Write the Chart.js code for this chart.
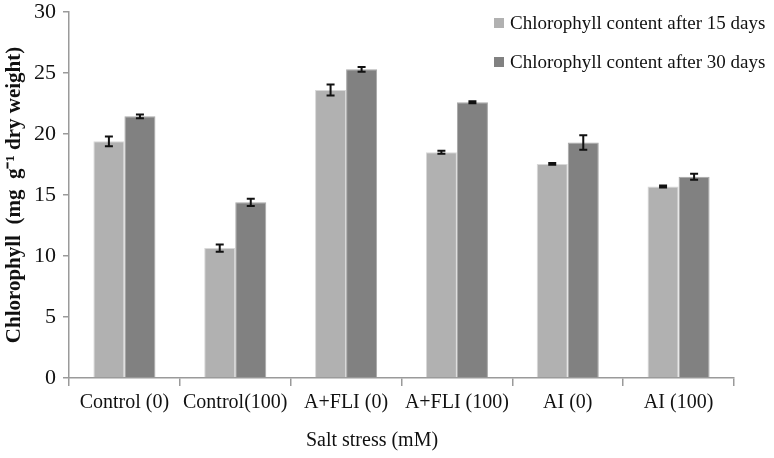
<!DOCTYPE html>
<html>
<head>
<meta charset="utf-8">
<script src="https://cdn.jsdelivr.net/npm/chart.js@4"></script>
<style>
  body { margin: 0; background: #fff; }
  #wrap { position: relative; width: 774px; height: 458px; }
  #legend { position: absolute; left: 494px; top: 11px; font-family: "Liberation Serif", serif; font-size: 19px; color: #111; }
  #legend div { height: 39px; line-height: 24px; white-space: nowrap; }
  #legend span { display: inline-block; width: 10px; height: 10px; margin-right: 6px; vertical-align: 1px; }
  #xtitle { position: absolute; left: 372px; top: 428px; transform: translateX(-50%); font-family: "Liberation Serif", serif; font-size: 20px; color: #111; white-space: nowrap; }
</style>
</head>
<body>
<div id="wrap">
  <canvas id="chart" width="774" height="458"></canvas>
  <div id="legend"></div>
  <div id="xtitle">Salt stress (mM)</div>
</div>
<script>
// Data
const categories = ['Control (0)', 'Control(100)', 'A+FLI (0)', 'A+FLI (100)', 'AI (0)', 'AI (100)'];
const seriesNames = ['Chlorophyll content after 15 days', 'Chlorophyll content after 30 days'];
const values15 = [19.4, 10.65, 23.6, 18.5, 17.55, 15.7];
const values30 = [21.45, 14.4, 25.3, 22.6, 19.3, 16.5];
const errors15 = [0.4, 0.3, 0.45, 0.12, 0.08, 0.08];
const errors30 = [0.15, 0.3, 0.2, 0.08, 0.6, 0.25];
const yTicks = [0, 5, 10, 15, 20, 25, 30];

const COLORS = ['#b1b1b1', '#818181'];
const FONT = '"Liberation Serif", "Times New Roman", serif';

// HTML legend
const legend = document.getElementById('legend');
seriesNames.forEach((name, i) => {
  const row = document.createElement('div');
  const box = document.createElement('span');
  box.style.backgroundColor = COLORS[i];
  row.appendChild(box);
  row.appendChild(document.createTextNode(name));
  legend.appendChild(row);
});

// Error bars drawn through the scales
const errorBarPlugin = {
  id: 'errorBars',
  afterDatasetsDraw(chart) {
    const ctx = chart.ctx;
    const yScale = chart.scales.y;
    const errs = [errors15, errors30];
    ctx.save();
    ctx.strokeStyle = '#111';
    ctx.lineWidth = 2;
    chart.data.datasets.forEach((ds, di) => {
      const meta = chart.getDatasetMeta(di);
      meta.data.forEach((bar, i) => {
        const v = ds.data[i];
        const top = yScale.getPixelForValue(v + errs[di][i]);
        const bottom = yScale.getPixelForValue(v - errs[di][i]);
        const x = bar.x;
        ctx.beginPath();
        ctx.moveTo(x, top); ctx.lineTo(x, bottom);
        ctx.moveTo(x - 4, top); ctx.lineTo(x + 4, top);
        ctx.moveTo(x - 4, bottom); ctx.lineTo(x + 4, bottom);
        ctx.stroke();
      });
    });
    ctx.restore();
  }
};

new Chart(document.getElementById('chart'), {
  type: 'bar',
  data: {
    labels: categories,
    datasets: [
      { label: seriesNames[0], data: values15, backgroundColor: COLORS[0], borderColor: '#d8d8d8', borderWidth: 1 },
      { label: seriesNames[1], data: values30, backgroundColor: COLORS[1], borderColor: '#a8a8a8', borderWidth: 1 }
    ]
  },
  plugins: [errorBarPlugin],
  options: {
    responsive: false,
    animation: false,
    layout: { padding: { top: 12, right: 40, left: 0, bottom: 0 } },
    datasets: { bar: { barPercentage: 1, categoryPercentage: 0.56 } },
    plugins: { legend: { display: false }, tooltip: { enabled: false } },
    scales: {
      x: {
        offset: true,
        border: { color: '#9a9a9a', width: 1.5 },
        grid: { offset: true, drawOnChartArea: false, color: '#9a9a9a', tickLength: 8, lineWidth: 1.5 },
        ticks: { color: '#111', font: { family: FONT, size: 20 }, padding: 5, maxRotation: 0, autoSkip: false },
        afterFit(scale) { scale.height = 80; }
      },
      y: {
        min: 0,
        max: 30,
        afterBuildTicks(scale) { scale.ticks = yTicks.map(v => ({ value: v })); },
        afterFit(scale) { scale.width = 69; scale.paddingTop = 0; scale.paddingBottom = 0; },
        border: { color: '#9a9a9a', width: 1.5 },
        grid: { drawOnChartArea: false, color: '#9a9a9a', tickLength: 6, lineWidth: 1.5 },
        ticks: { color: '#111', font: { family: FONT, size: 22 }, padding: 7 },
        title: { display: true, text: 'Chlorophyll  (mg  g\u207B\u00B9 dry weight)', color: '#111', font: { family: FONT, size: 21, weight: 'bold' }, padding: { top: 2, bottom: 0 } }
      }
    }
  }
});
</script>
</body>
</html>
